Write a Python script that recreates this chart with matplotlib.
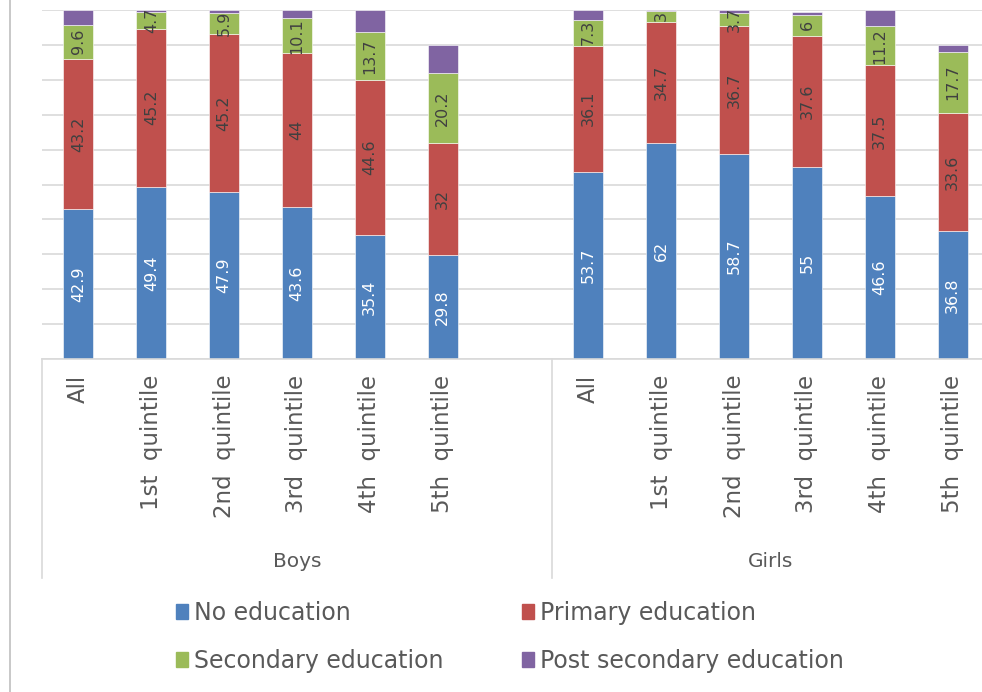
import numpy as np
import matplotlib
matplotlib.use("Agg")
import matplotlib.pyplot as plt
from matplotlib.patches import Patch
from matplotlib.lines import Line2D

# education of household head, by wealth quintile (%)
categories = ["All", "1st  quintile", "2nd  quintile", "3rd  quintile", "4th  quintile", "5th  quintile"]
groups = ["Boys", "Girls"]

boys_none = [42.9, 49.4, 47.9, 43.6, 35.4, 29.8]
boys_primary = [43.2, 45.2, 45.2, 44.0, 44.6, 32.0]
boys_secondary = [9.6, 4.7, 5.9, 10.1, 13.7, 20.2]
boys_post = [4.3, 0.7, 1.0, 2.3, 6.3, 8.0]

girls_none = [53.7, 62.0, 58.7, 55.0, 46.6, 36.8]
girls_primary = [36.1, 34.7, 36.7, 37.6, 37.5, 33.6]
girls_secondary = [7.3, 3.0, 3.7, 6.0, 11.2, 17.7]
girls_post = [2.9, 0.3, 0.9, 0.9, 4.7, 1.9]

series_names = ["No education", "Primary education", "Secondary education", "Post secondary education"]
colors = ["#4F81BD", "#C0504D", "#9BBB59", "#8064A2"]
label_colors = ["white", "#404040", "#404040", None]

plt.rcParams['font.family'] = ['DejaVu Sans']
txt = "#595959"

fig = plt.figure(figsize=(9.82, 6.92), dpi=100)
ax = fig.add_axes([42 / 982, 1 - 359 / 692, 947 / 982, 349 / 692])

# boys in slots 0-5, an empty slot 6, girls in slots 7-12
xb = np.arange(6)
xg = np.arange(6) + 7
data = [
    (xb, [boys_none, boys_primary, boys_secondary, boys_post]),
    (xg, [girls_none, girls_primary, girls_secondary, girls_post]),
]
w = 0.41
for xs, series in data:
    bottom = np.zeros(6)
    for k, vals in enumerate(series):
        vals = np.array(vals)
        ax.bar(xs, vals, w, bottom=bottom, color=colors[k], edgecolor="white", linewidth=0.4, zorder=2)
        if label_colors[k] is not None:
            for x, b, v in zip(xs, bottom, vals):
                ax.text(x, b + v / 2, f"{v:g}", rotation=90, ha="center", va="center",
                        fontsize=11.5, color=label_colors[k], zorder=3)
        bottom += vals

ax.set_xlim(-0.5, 12.5)
ax.set_ylim(0, 100)
ax.set_yticks(np.arange(0, 101, 10))
ax.yaxis.grid(True, color="#D9D9D9", linewidth=1.2, zorder=0)
ax.set_yticklabels([])
ax.tick_params(left=False, bottom=False, labelbottom=False)
for s in ["left", "right", "top"]:
    ax.spines[s].set_visible(False)
ax.spines["bottom"].set_color("#D9D9D9")
ax.spines["bottom"].set_linewidth(1.2)

# category and group labels below the axis
tr = ax.get_xaxis_transform()
for xs in (xb, xg):
    for x, c in zip(xs, categories):
        ax.text(x, -0.045, c, transform=tr, rotation=90, ha="center", va="top",
                fontsize=16.5, color=txt, clip_on=False)
ax.text(3.0, -0.58, groups[0], transform=tr, ha="center", va="center", fontsize=14.5, color=txt)
ax.text(9.5, -0.58, groups[1], transform=tr, ha="center", va="center", fontsize=14.5, color=txt)
for sx in (-0.5, 6.5, 12.5):
    ax.add_line(Line2D([sx, sx], [0, -0.628], transform=tr, color="#D9D9D9", linewidth=1.2, clip_on=False))

# outer chart border on the left
fig.add_artist(Line2D([10 / 982, 10 / 982], [0, 1], transform=fig.transFigure, color="#BFBFBF", linewidth=1.2))

handles = [Patch(color=colors[0]), Patch(color=colors[2]), Patch(color=colors[1]), Patch(color=colors[3])]
labels = [series_names[0], series_names[2], series_names[1], series_names[3]]
fig.legend(handles, labels, ncol=2, loc="center", bbox_to_anchor=(510 / 982, 1 - 637 / 692),
           frameon=False, fontsize=17, labelcolor=txt, handlelength=0.5, handleheight=0.6,
           handletextpad=0.25, columnspacing=3.35, labelspacing=1.0, borderpad=0)

fig.savefig("out.png", dpi=100, facecolor="white")
